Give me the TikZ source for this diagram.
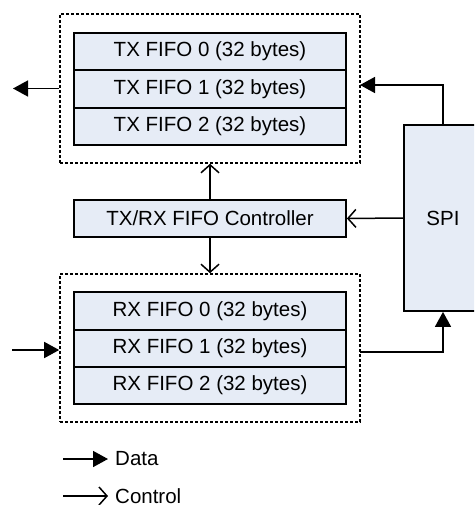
\documentclass[tikz,border=0pt]{standalone}
\usepackage{fontspec}
\setmainfont{Liberation Sans}
\usetikzlibrary{arrows.meta}
\definecolor{boxfill}{RGB}{230,236,246}
\begin{document}
\begin{tikzpicture}[x=1pt,y=-1pt,
  lbl/.style={font=\fontsize{20.5}{24}\selectfont},
  fifo/.style={lbl,draw,line width=1.8pt,fill=boxfill,minimum width=272pt,
    minimum height=37.5pt,inner sep=0pt},
  group/.style={draw,line width=1.6pt,dash pattern=on 3pt off 2pt,
    minimum width=300pt,inner sep=0pt},
  data/.style={line width=1.6pt,-{Triangle[length=15pt,width=16pt]}},
  ctrl/.style={line width=1.5pt,-{Straight Barb[length=8pt,width=18pt]}}]
  \clip (0,0) rectangle (474,505);
  \useasboundingbox (0,0) rectangle (474,505);

  % TX FIFO group
  \node[group,minimum height=149pt] (txgrp) at (210,88.5) {};
  \node[fifo] (tx0) at (210,51.5) {TX FIFO 0 (32 bytes)};
  \node[fifo] (tx1) at (210,89) {TX FIFO 1 (32 bytes)};
  \node[fifo] (tx2) at (210,126.5) {TX FIFO 2 (32 bytes)};

  % controller
  \node[fifo,minimum height=37pt] (ctl) at (210,218.5) {TX/RX FIFO Controller};

  % RX FIFO group
  \node[group,minimum height=148pt] (rxgrp) at (210,348) {};
  \node[fifo] (rx0) at (210,311) {RX FIFO 0 (32 bytes)};
  \node[fifo] (rx1) at (210,348.5) {RX FIFO 1 (32 bytes)};
  \node[fifo] (rx2) at (210,385.5) {RX FIFO 2 (32 bytes)};

  % SPI block (runs off the right edge)
  \node[lbl,draw,line width=1.8pt,fill=boxfill,minimum width=78pt,
    minimum height=186pt,inner sep=0pt] (spi) at (443,218) {SPI};

  % free ends and bend points
  \coordinate (txout) at (13,88.5);
  \coordinate (txin) at (360,85);
  \coordinate (rxin) at (12,350);
  \coordinate (rxout) at (360,352);

  % data paths
  \draw[data] (txgrp.west) -- (txout);
  \draw[data] (spi.north) |- (txin);
  \draw[data] (rxin) -- (rxgrp.west |- rxin);
  \draw[data] (rxout) -| (spi.south);

  % control paths
  \draw[ctrl] (ctl.north) -- (txgrp.south);
  \draw[ctrl] (ctl.south) -- (rxgrp.north);
  \draw[ctrl] (spi.west) -- (ctl.east);

  % legend
  \coordinate (ld0) at (63,459);
  \coordinate (lc0) at (63,496);
  \node[lbl,anchor=west,inner sep=0pt] (ldata) at (115,459) {Data};
  \node[lbl,anchor=west,inner sep=0pt] (lctrl) at (115,496) {Control};
  \draw[data] (ld0) -- ([xshift=-7pt]ldata.west);
  \draw[ctrl] (lc0) -- ([xshift=-7pt]lctrl.west);
\end{tikzpicture}
\end{document}
